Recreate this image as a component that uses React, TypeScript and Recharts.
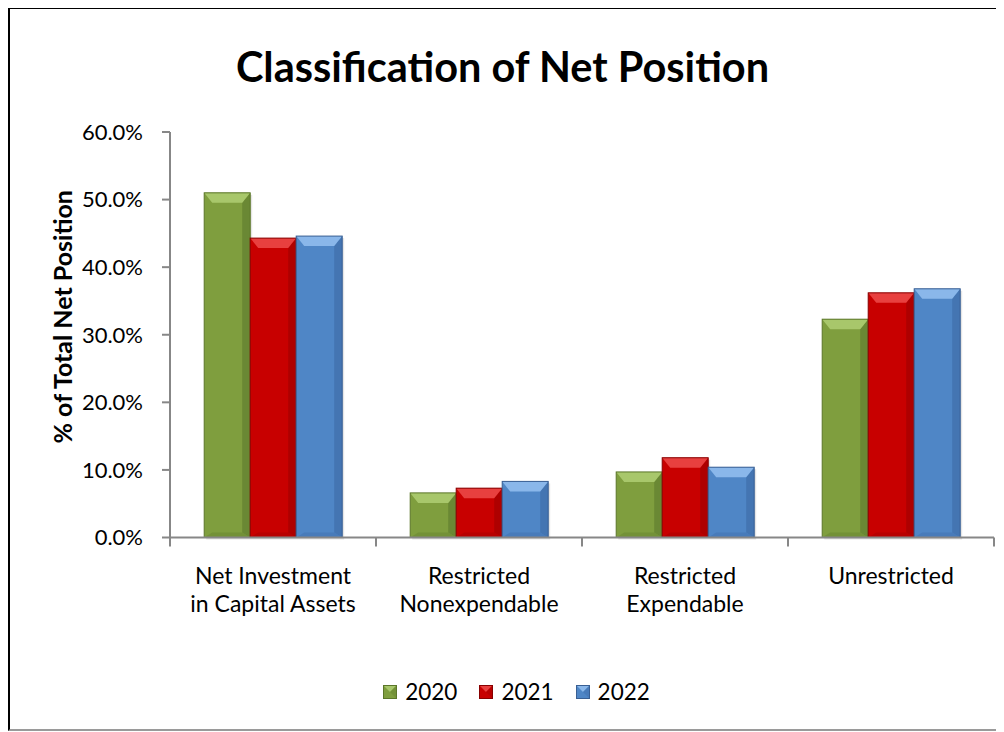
import React from "react";
import { BarChart, Bar, XAxis, YAxis } from "recharts";

const categories = [
  "Net Investment\nin Capital Assets",
  "Restricted\nNonexpendable",
  "Restricted\nExpendable",
  "Unrestricted",
];
const years = ["2020", "2021", "2022"];
const values2020 = [51.0, 6.6, 9.7, 32.3];
const values2021 = [44.3, 7.3, 11.8, 36.2];
const values2022 = [44.6, 8.3, 10.4, 36.8];
const yTicks = [0, 10, 20, 30, 40, 50, 60];

const data = categories.map((c, i) => ({
  name: c,
  y2020: values2020[i],
  y2021: values2021[i],
  y2022: values2022[i],
}));

const FONT = "Lato, Carlito, Calibri, 'Open Sans', sans-serif";
const AXIS = "#878787";

const PAL = [
  { main: "#7F9E3E", light: "#A8C76B", dark: "#6A8834", line: "#5B7629" },
  { main: "#C80000", light: "#E8403F", dark: "#AE0000", line: "#880000" },
  { main: "#4F86C6", light: "#8AB7EA", dark: "#4475B2", line: "#395F93" },
];

const BevelBar = (props: any) => {
  const { x, y, width, height, pal } = props;
  if (!height || height <= 0) return null;
  const w = width;
  const h = height;
  const b = Math.min(10, h / 2);
  const s = Math.min(8, w / 4);
  return (
    <g>
      <rect x={x + 2} y={y + 2} width={w} height={h} fill="rgba(0,0,0,0.10)" />
      <rect x={x} y={y} width={w} height={h} fill={pal.main} />
      <polygon
        points={`${x + w},${y} ${x + w},${y + h} ${x + w - s},${y + h - 5} ${x + w - s},${y + b}`}
        fill={pal.dark}
      />
      <polygon
        points={`${x},${y + h} ${x + w},${y + h} ${x + w - s},${y + h - 5} ${x + s},${y + h - 5}`}
        fill={pal.dark}
        opacity={0.6}
      />
      <polygon
        points={`${x},${y} ${x + w},${y} ${x + w - s},${y + b} ${x + s},${y + b}`}
        fill={pal.light}
      />
      <rect x={x} y={y} width={w} height={h} fill="none" stroke={pal.line} strokeWidth={1} />
    </g>
  );
};

const XTick = (props: any) => {
  const { x, y, payload, index } = props;
  const half = payload && payload.offset ? payload.offset : 103;
  const lines = String(payload.value).split("\n");
  return (
    <g>
      <line x1={x - half} y1={y} x2={x - half} y2={y + 9} stroke={AXIS} strokeWidth={2} />
      {index === categories.length - 1 && (
        <line x1={x + half} y1={y} x2={x + half} y2={y + 9} stroke={AXIS} strokeWidth={2} />
      )}
      {lines.map((l, i) => (
        <text
          key={i}
          x={x}
          y={y + 37.5 + i * 28}
          textAnchor="middle"
          dominantBaseline="central"
          fontFamily={FONT}
          fontSize={23}
          fill="#000"
        >
          {l}
        </text>
      ))}
    </g>
  );
};

const YLabel = (props: any) => {
  const vb = props.viewBox || { x: 0, y: 0, width: 160, height: 400 };
  const cx = 52;
  const cy = vb.y + vb.height / 2 - 18;
  return (
    <text
      x={cx}
      y={cy}
      transform={`rotate(-90, ${cx}, ${cy})`}
      textAnchor="middle"
      dominantBaseline="central"
      fontFamily={FONT}
      fontWeight="bold"
      fontSize={25}
      fill="#000"
    >
      % of Total Net Position
    </text>
  );
};

const LegendSwatch = ({ pal }: any) => (
  <svg width={14} height={14} style={{ display: "block" }}>
    <rect x={0} y={0} width={14} height={14} fill={pal.main} />
    <polygon points="0,0 14,0 7,7" fill={pal.light} />
    <polygon points="14,0 14,14 7,7" fill={pal.dark} opacity={0.6} />
    <rect x={0.5} y={0.5} width={13} height={13} fill="none" stroke={pal.line} />
  </svg>
);

export default function App() {
  const keys = ["y2020", "y2021", "y2022"];
  return (
    <div
      style={{
        position: "relative",
        marginTop: -1,
        width: 994,
        height: 720,
        borderLeft: "2px solid #000",
        borderTop: "2px solid #000",
        borderBottom: "2px solid #9a9a9a",
        background: "#fff",
        fontFamily: FONT,
      }}
    >
      <div
        style={{
          position: "absolute",
          left: 0,
          width: 985,
          top: 32,
          textAlign: "center",
          fontSize: 41.5,
          fontWeight: "bold",
          lineHeight: "50px",
          color: "#000",
        }}
      >
        Classification of Net Position
      </div>
      <BarChart
        width={985}
        height={720}
        data={data}
        margin={{ top: 123, right: 1, left: 0, bottom: 101.5 }}
        barCategoryGap="16.6%"
        barGap={0}
      >
        <YAxis
          domain={[0, 60]}
          ticks={yTicks}
          width={160}
          tickFormatter={(v: number) => `${v.toFixed(1)}%`}
          tick={{ fontFamily: FONT, fontSize: 22, fill: "#000" }}
          tickSize={8}
          tickMargin={19}
          axisLine={{ stroke: AXIS, strokeWidth: 2 }}
          tickLine={{ stroke: AXIS, strokeWidth: 2 }}
          label={<YLabel />}
          interval={0}
        />
        <XAxis
          dataKey="name"
          height={90}
          interval={0}
          tickSize={0}
          tickMargin={0}
          tickLine={false}
          axisLine={{ stroke: AXIS, strokeWidth: 2 }}
          tick={<XTick />}
        />
        {keys.map((k, i) => (
          <Bar
            key={k}
            dataKey={k}
            name={years[i]}
            isAnimationActive={false}
            fill={PAL[i].main}
            shape={(p: any) => <BevelBar {...p} pal={PAL[i]} />}
          />
        ))}
      </BarChart>
      <div
        style={{
          position: "absolute",
          left: 0,
          width: 985,
          top: 669,
          display: "flex",
          justifyContent: "center",
          alignItems: "center",
          paddingLeft: 28,
          boxSizing: "border-box",
          fontSize: 22.5,
          color: "#000",
        }}
      >
        {years.map((yr, i) => (
          <div
            key={yr}
            style={{ display: "flex", alignItems: "center", marginRight: i < 2 ? 22 : 0 }}
          >
            <LegendSwatch pal={PAL[i]} />
            <span style={{ marginLeft: 8, lineHeight: "28px" }}>{yr}</span>
          </div>
        ))}
      </div>
    </div>
  );
}
